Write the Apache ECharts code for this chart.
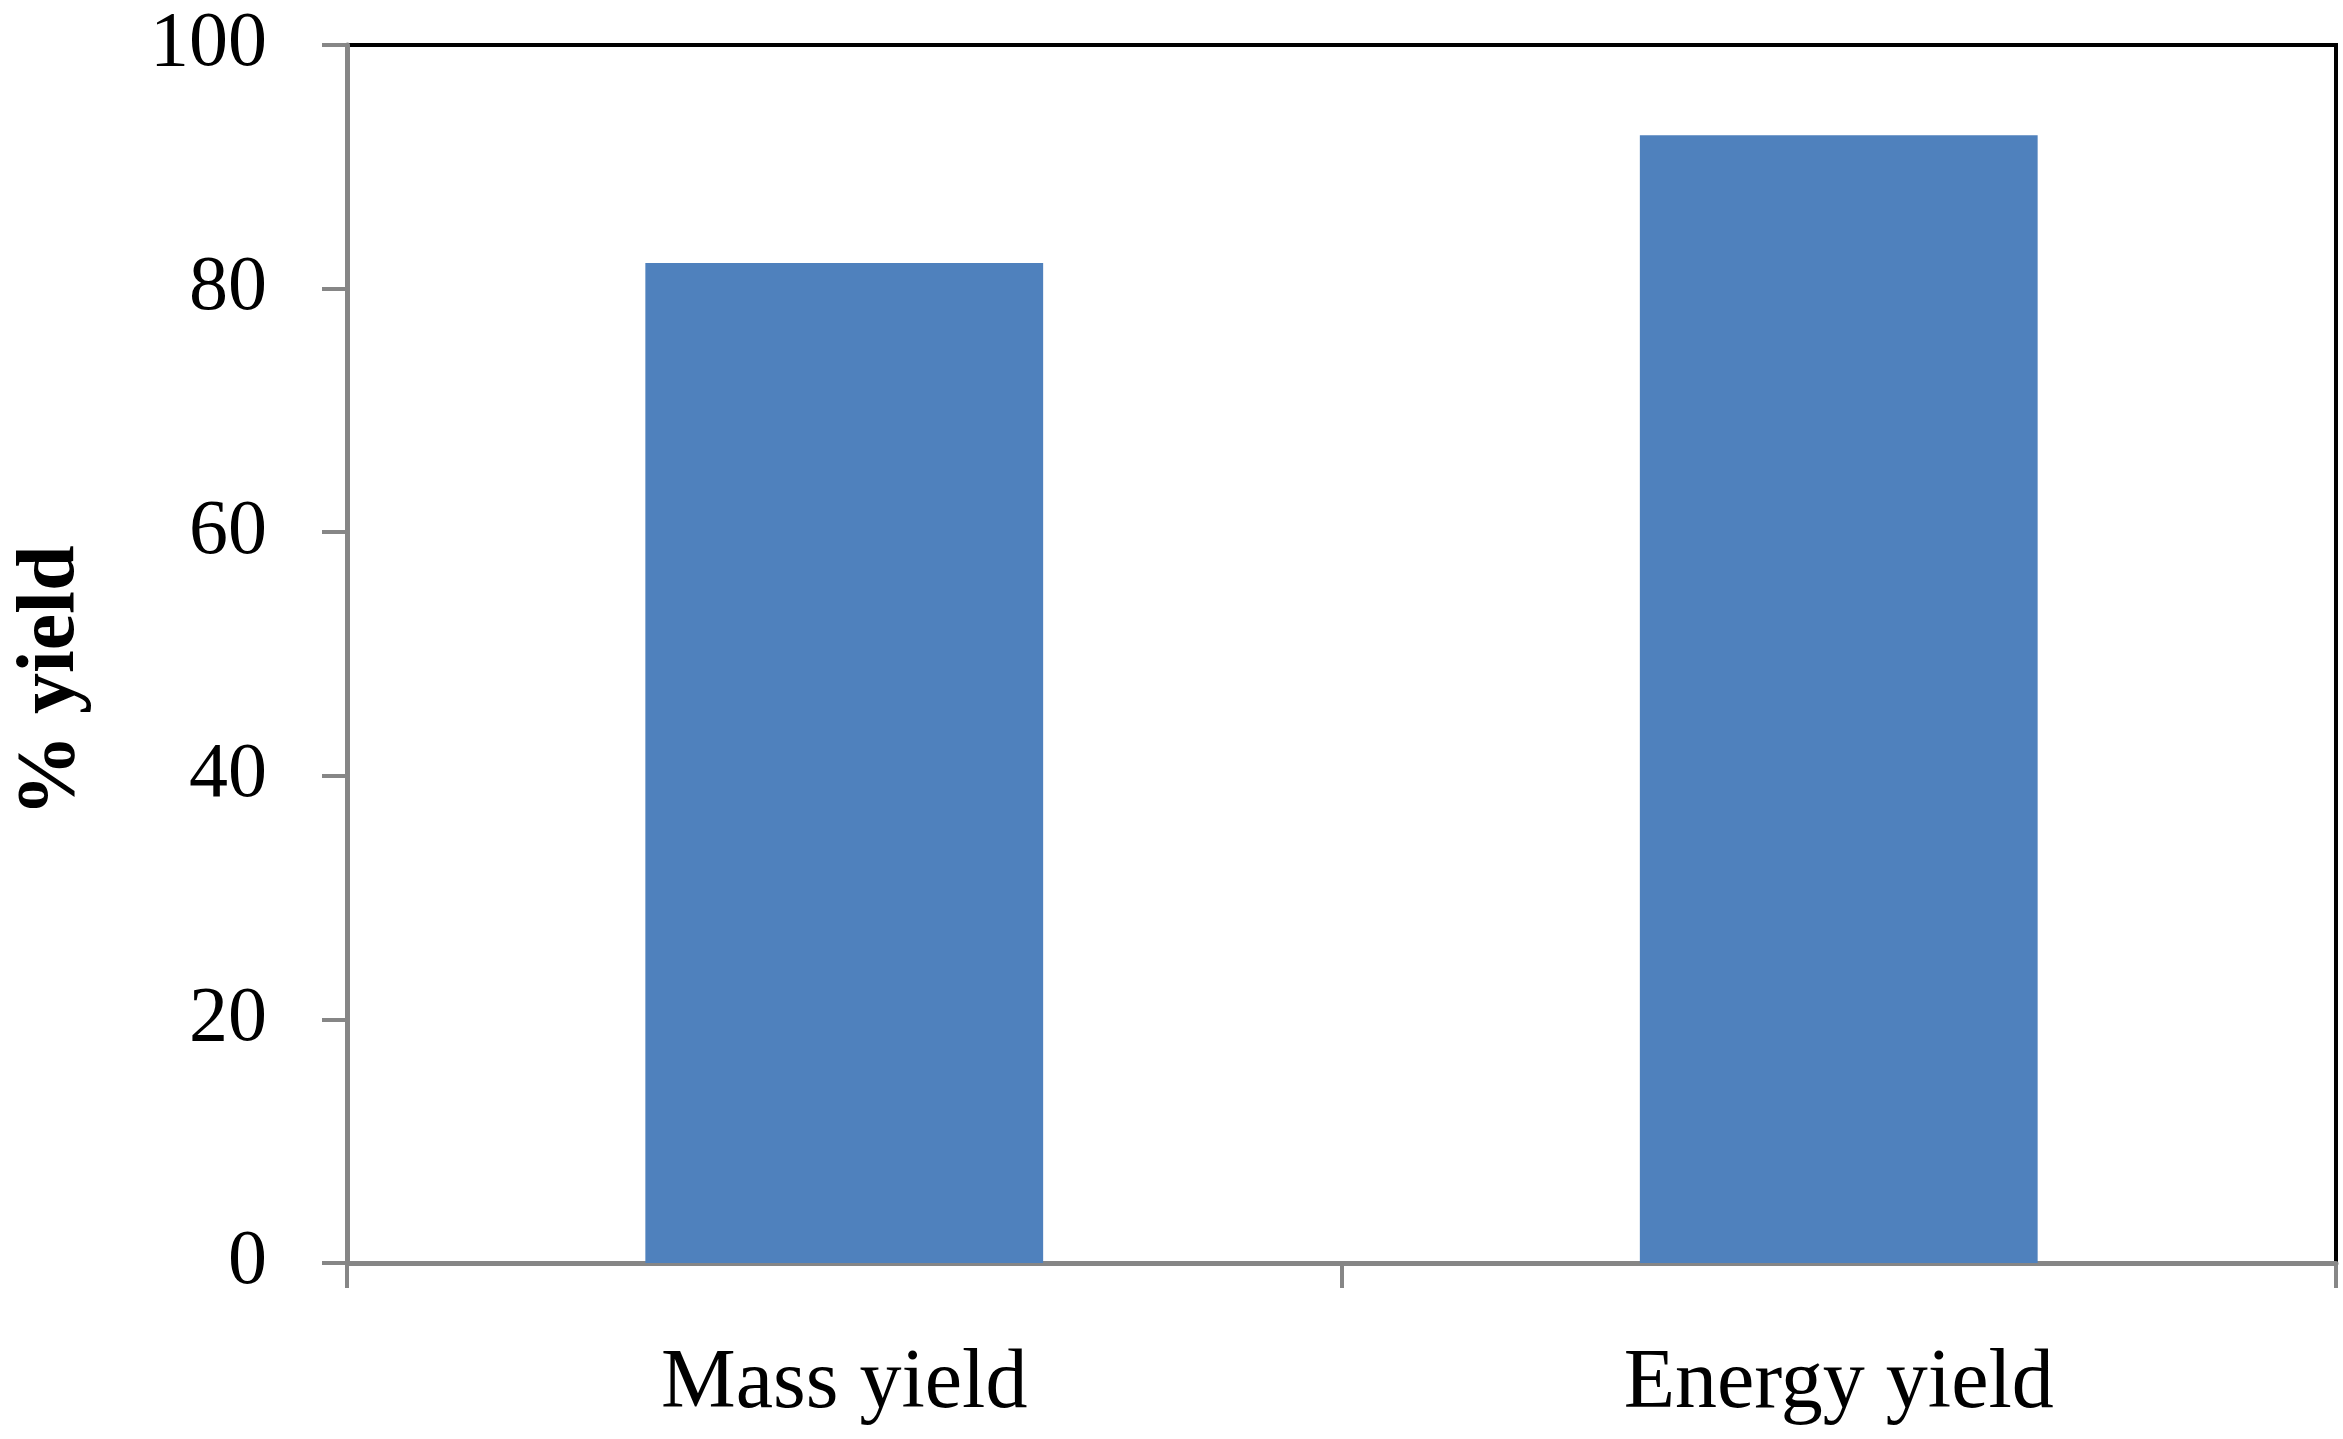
<!DOCTYPE html>
<html><head><meta charset="utf-8">
<script src="https://cdn.jsdelivr.net/npm/echarts@6/dist/echarts.min.js"></script>
<style>html,body{margin:0;padding:0;background:#fff}#c{width:2343px;height:1439px}</style>
</head><body><div id="c"></div>
<script>
const categories = ['Mass yield', 'Energy yield'];
const yieldValues = [82.1, 92.6];
const yTicks = [0, 20, 40, 60, 80, 100];

const chart = echarts.init(document.getElementById('c'));
const serif = '"Liberation Serif", "DejaVu Serif", serif';
chart.setOption({
  backgroundColor: '#ffffff',
  animation: false,
  grid: { left: 347, right: 7, top: 45, bottom: 176, show: true, borderColor: '#000', borderWidth: 4, backgroundColor: 'transparent' },
  xAxis: {
    type: 'category', data: categories,
    axisLine: { show: true, lineStyle: { color: '#868686', width: 5 } },
    axisTick: { show: true, alignWithLabel: false, length: 25, lineStyle: { color: '#868686', width: 4 } },
    axisLabel: { color: '#000', fontFamily: serif, fontSize: 84, margin: 80 }
  },
  yAxis: {
    type: 'value', min: yTicks[0], max: yTicks[yTicks.length - 1], interval: 20,
    name: '% yield', nameLocation: 'middle', nameGap: 254,
    nameTextStyle: { color: '#000', fontFamily: serif, fontSize: 82, fontWeight: 'bold', padding: [0, 54, 0, 0] },
    axisLine: { show: true, lineStyle: { color: '#868686', width: 5 } },
    axisTick: { show: true, length: 25, lineStyle: { color: '#868686', width: 4 } },
    splitLine: { show: false },
    axisLabel: { color: '#000', fontFamily: serif, fontSize: 78, margin: 80 }
  },
  series: [{
    type: 'bar', data: yieldValues, barWidth: '40%',
    itemStyle: { color: '#4F81BD' }
  }]
});
</script></body></html>
